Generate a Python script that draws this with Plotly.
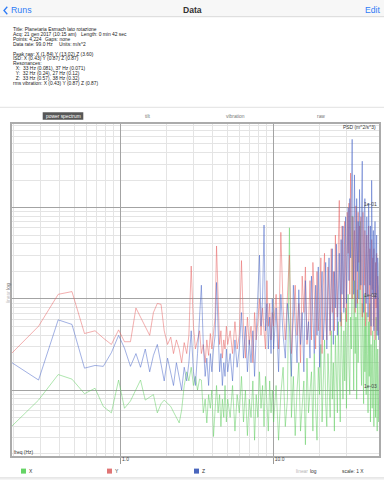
import math
import plotly.graph_objects as go

# ---------------- data (PSD, log10 of m^2/s^3) ----------------
freq_hz = [
    0.19, 0.29, 0.39, 0.48, 0.58, 0.68, 0.77, 0.87, 0.97, 1.06,
    1.16, 1.26, 1.35, 1.45, 1.55, 1.64, 1.74, 1.84, 1.93, 2.03,
    2.13, 2.22, 2.32, 2.42, 2.51, 2.61, 2.71, 2.80, 2.90, 3.00,
    3.09, 3.19, 3.29, 3.38, 3.48, 3.58, 3.67, 3.77, 3.87, 3.96,
    4.06, 4.16, 4.25, 4.35, 4.45, 4.54, 4.64, 4.74, 4.83, 4.93,
    5.03,
    5.22, 5.41, 5.61, 5.80, 5.99, 6.19, 6.38, 6.57, 6.77, 6.96,
    7.15, 7.35, 7.54, 7.73, 7.93, 8.12, 8.31, 8.51, 8.70, 8.89,
    9.09, 9.28, 9.47, 9.67, 9.86,
    10.05, 10.44, 10.83, 11.21, 11.60, 11.99, 12.38, 12.76, 13.15, 13.54,
    13.92, 14.31, 14.70, 15.08, 15.47, 15.86, 16.24, 16.63, 17.02, 17.40,
    17.79, 18.18, 18.56, 18.95, 19.34, 19.72, 20.11, 20.50, 20.88, 21.27,
    21.66, 22.04, 22.43, 22.82, 23.20, 23.59, 23.98, 24.36, 24.75, 25.14,
    25.52, 25.91, 26.30, 26.68, 27.07, 27.46, 27.84, 28.23, 28.62, 29.00,
    29.39, 29.78, 30.16, 30.55, 30.94, 31.32, 31.71, 32.10, 32.48, 32.87,
    33.26, 33.64, 34.03, 34.42, 34.80, 35.19, 35.58, 35.96, 36.35, 36.74,
    37.13, 37.51, 37.90, 38.28, 38.67, 39.06, 39.45, 39.83, 40.22, 40.61,
    40.99, 41.38, 41.77, 42.15, 42.54, 42.93, 43.31, 43.70, 44.09, 44.47,
    44.86, 45.25, 45.63, 46.02, 46.41, 46.79, 47.18, 47.57, 47.95, 48.34,
    48.73, 49.11, 49.50,
]

psd_x_exp = [
    -3.41, -3.11, -2.83, -2.88, -3.04, -2.98, -3.18, -3.25, -2.89, -3.20,
    -3.12, -3.00, -2.89, -3.11, -3.08, -3.05, -3.25, -3.15, -3.11, -3.15,
    -3.18, -3.24, -3.30, -3.36, -3.22, -2.95, -2.80, -2.90, -2.75, -2.95,
    -2.85, -3.00, -2.88, -2.89, -3.25, -3.10, -3.36, -3.05, -3.20, -3.00,
    -3.51, -3.15, -2.95, -3.25, -3.05, -3.40, -3.10, -3.30, -2.95, -3.35,
    -3.10,
    -3.30, -2.95, -3.45, -3.05, -3.25, -2.85, -3.35, -3.00, -3.50, -3.10,
    -3.30, -2.90, -3.55, -3.05, -3.30, -2.80, -3.20, -2.95, -3.40, -2.85,
    -3.15, -3.45, -2.90, -3.25, -3.00,
    -3.35, -2.95, -3.55, -3.05, -2.75, -3.40, -3.10, -1.22, -3.30, -2.85,
    -3.50, -3.00, -2.70, -3.45, -3.15, -2.90, -3.60, -2.65, -3.25, -3.05,
    -2.80, -3.45, -2.60, -3.20, -3.55, -2.75, -3.05, -2.50, -3.35, -2.90,
    -2.45, -3.15, -3.40, -2.60, -2.95, -3.30, -2.35, -3.10, -2.70, -3.45,
    -2.40, -2.95, -3.25, -2.25, -2.80, -3.35, -2.15, -2.70, -3.10, -2.35,
    -2.90, -2.10, -3.20, -2.50, -1.95, -2.75, -3.05, -2.20, -2.55, -1.09,
    -2.45, -3.00, -1.80, -2.60, -2.20, -3.10, -1.90, -2.70, -2.35, -1.75,
    -1.15, -2.65, -2.95, -2.05, -2.40, -3.15, -1.95, -2.80, -2.30, -3.05,
    -2.15, -2.60, -3.25, -2.25, -2.85, -2.05, -3.35, -2.50, -2.75, -3.20,
    -2.35, -2.90, -3.40, -2.45, -2.70, -3.30, -2.20, -3.00, -3.45, -2.55,
    -2.85, -3.35, -2.70,
]

psd_y_exp = [
    -2.61, -2.30, -1.95, -1.92, -2.38, -2.35, -2.43, -2.50, -2.34, -2.47,
    -2.47, -2.10, -2.20, -2.31, -2.40, -2.15, -2.05, -2.06, -2.35, -2.50,
    -2.42, -2.60, -2.45, -2.55, -2.70, -2.48, -2.60, -2.40, -1.64, -2.30,
    -2.55, -2.45, -2.35, -2.60, -2.50, -2.70, -2.45, -2.62, -2.38, -2.55,
    -2.40, -2.20, -1.42, -2.10, -2.50, -2.35, -2.65, -2.45, -2.55, -2.30,
    -2.50,
    -2.35, -2.60, -2.25, -2.55, -2.40, -1.58, -2.30, -2.65, -2.20, -2.50,
    -2.30, -2.70, -2.15, -2.45, -2.25, -2.00, -2.40, -2.10, -2.35, -2.55,
    -1.80, -2.30, -2.05, -2.45, -2.15,
    -2.30, -1.95, -2.55, -1.27, -2.10, -2.45, -1.90, -1.52, -2.60, -2.20,
    -1.85, -2.40, -2.05, -2.70, -1.75, -2.15, -1.65, -2.50, -2.30, -1.80,
    -2.45, -1.60, -1.95, -2.55, -1.70, -2.35, -2.10, -1.55, -2.60, -1.85,
    -1.50, -2.25, -2.45, -1.65, -1.95, -2.40, -1.45, -2.15, -1.70, -2.35,
    -1.30, -1.90, -2.20, -1.40, -0.92, -1.75, -2.30, -1.20, -1.60, -2.10,
    -1.15, -1.70, -2.25, -1.05, -1.50, -0.95, -1.95, -0.62, -1.35, -2.00,
    -1.10, -1.80, -1.25, -2.15, -0.98, -1.45, -2.05, -1.05, -1.60, -1.20,
    -1.90, -1.10, -1.50, -2.20, -1.05, -1.35, -1.85, -1.25, -2.30, -1.55,
    -1.30, -1.95, -1.60, -1.20, -2.25, -1.45, -1.75, -2.40, -1.35, -1.90,
    -1.55, -2.30, -1.45, -1.85, -2.45, -1.60, -2.10, -1.50, -2.35, -1.75,
    -1.95, -2.40, -1.85,
]

psd_z_exp = [
    -2.69, -2.89, -2.23, -2.28, -2.76, -2.73, -2.74, -2.59, -2.40, -2.54,
    -2.74, -2.60, -2.75, -2.55, -2.80, -2.62, -2.50, -2.70, -2.90, -2.65,
    -2.80, -2.95, -2.70, -2.85, -3.00, -2.75, -2.90, -2.70, -2.35, -2.80,
    -2.95, -2.60, -2.20, -1.85, -2.50, -2.85, -2.65, -2.95, -2.60, -2.80,
    -2.55, -2.40, -1.82, -2.45, -2.80, -2.60, -2.95, -2.70, -2.85, -2.55,
    -2.80,
    -2.60, -2.90, -2.45, -2.75, -2.55, -2.15, -2.65, -2.30, -2.80, -2.45,
    -2.70, -2.35, -2.85, -2.40, -2.10, -1.52, -2.30, -2.00, -1.19, -2.35,
    -2.05, -2.55, -2.20, -2.60, -2.00,
    -2.55, -2.10, -2.80, -1.95, -2.40, -2.65, -2.05, -2.30, -2.85, -1.85,
    -2.35, -2.70, -1.90, -2.50, -2.15, -2.80, -1.80, -2.45, -2.25, -2.65,
    -1.75, -2.30, -2.60, -1.85, -2.40, -1.65, -2.75, -2.05, -1.70, -2.45,
    -2.20, -1.60, -2.55, -1.90, -1.55, -2.35, -2.00, -1.45, -2.50, -1.70,
    -2.10, -1.40, -2.40, -1.80, -1.50, -2.25, -1.35, -1.95, -1.20, -2.15,
    -1.65, -1.10, -2.05, -1.40, -1.00, -1.80, -0.90, -1.55, -0.62, -0.25,
    -1.30, -1.95, -0.64, -1.50, -2.10, -0.90, -1.70, -1.15, -2.00, -0.80,
    -1.45, -1.85, -0.95, -0.49, -1.60, -2.15, -1.05, -0.90, -1.75, -2.05,
    -1.10, -1.55, -2.20, -0.95, -1.40, -1.85, -1.20, -2.30, -0.70, -1.60,
    -1.95, -1.25, -2.35, -1.50, -1.15, -2.00, -1.70, -1.30, -2.40, -1.55,
    -1.90, -2.45, -1.60,
]

assert len(freq_hz) == len(psd_x_exp) == len(psd_y_exp) == len(psd_z_exp), (
    len(freq_hz), len(psd_x_exp), len(psd_y_exp), len(psd_z_exp))

series_names = ["X", "Y", "Z"]
series_exp = [psd_x_exp, psd_y_exp, psd_z_exp]
line_colors = ["rgba(95,205,95,0.5)", "rgba(232,95,95,0.5)", "rgba(70,100,200,0.5)"]
legend_colors = ["#66d466", "#e07575", "#4a66bd"]

x_major = [1, 10]
x_major_text = ["1.0", "10.0"]
y_major = [0.1, 0.01, 0.001]
y_major_text = ["1e-01", "1e-02", "1e-03"]
x_minor = [m * 10 ** e for e in (-1, 0, 1) for m in range(2, 10)]
y_minor = [m * 10 ** e for e in (-4, -3, -2, -1) for m in range(2, 10)]

info_lines = [
    "Title: Planetaria Esmach lato rotazione",
    "Acq: 21 gen 2017 (10:15 am)",
    "Points: 4,224",
    "Data rate: 99.0 Hz",
    "",
    "Peak raw: X (1.84) Y (13.02) Z (3.60)",
    "ISD: X (0.43) Y (0.87) Z (0.87)",
    "Resonances:",
    "\u00a0\u00a0X:\u00a0\u00a033 Hz (0.081), 37 Hz (0.071)",
    "\u00a0\u00a0Y:\u00a0\u00a032 Hz (0.24), 27 Hz (0.12)",
    "\u00a0\u00a0Z:\u00a0\u00a033 Hz (0.57), 38 Hz (0.32)",
    "rms vibration: X (0.43) Y (0.87) Z (0.87)",
]
info_col2 = {1: ("Length: 0 min 42 sec", 80), 2: ("Gaps: none", 44), 3: ("Units: m/s^2", 58.3)}
tabs = ["power spectrum", "tilt", "vibration", "raw"]
tab_centers = [63, 148.3, 235.5, 320.7]

W, H = 384, 480
FONT = "Liberation Sans, Arial, Helvetica, sans-serif"


def px(x):
    return x / W


def py(y):
    return 1 - y / H


fig = go.Figure()
for name, exps, col in zip(series_names, series_exp, line_colors):
    fig.add_trace(go.Scatter(
        x=freq_hz, y=[10 ** v for v in exps], mode="lines", name=name,
        line=dict(color=col, width=1), hoverinfo="skip", showlegend=False))

f_lo, f_hi = 0.1934, 49.5
fig.update_layout(
    width=W, height=H, margin=dict(l=0, r=0, t=0, b=0),
    paper_bgcolor="white", plot_bgcolor="white", showlegend=False,
    font=dict(family=FONT, size=5, color="#333"),
    xaxis=dict(
        type="log", range=[math.log10(f_lo), math.log10(f_hi)],
        domain=[px(11.7), px(379.3)], anchor="y",
        tickmode="array", tickvals=x_major, ticktext=x_major_text,
        ticks="outside", ticklen=6, tickwidth=1.3, tickcolor="#9a9a9a",
        ticklabelposition="outside right", ticklabelstandoff=-3,
        tickfont=dict(size=5, color="#444", family=FONT),
        showgrid=True, gridcolor="#a3a3a3", gridwidth=1.3,
        showline=True, linecolor="#ababab", linewidth=1.6, mirror=True,
        zeroline=False,
        minor=dict(tickmode="array", tickvals=x_minor, showgrid=True,
                   gridcolor="#e4e4e4", gridwidth=1, ticks=""),
    ),
    yaxis=dict(
        type="log", range=[-3.72, -0.082],
        domain=[py(455.7), py(124)], anchor="x", side="right",
        tickmode="array", tickvals=y_major, ticktext=y_major_text,
        ticks="", ticklabelposition="inside top",
        tickfont=dict(size=5, color="#444", family=FONT),
        showgrid=True, gridcolor="#a3a3a3", gridwidth=1.3,
        showline=True, linecolor="#ababab", linewidth=1.6, mirror=True,
        zeroline=False,
        minor=dict(tickmode="array", tickvals=y_minor, showgrid=True,
                   gridcolor="#e4e4e4", gridwidth=1, ticks=""),
    ),
)

shapes = []
ann = []

# nav bar
shapes.append(dict(type="rect", xref="paper", yref="paper", x0=0, x1=1, y0=py(16.7), y1=1,
                   fillcolor="#f7f7f7", line=dict(width=0), layer="below"))
shapes.append(dict(type="line", xref="paper", yref="paper", x0=0, x1=1, y0=py(16.7), y1=py(16.7),
                   line=dict(color="#cfcfcf", width=0.8)))
shapes.append(dict(type="path", xref="paper", yref="paper",
                   path=f"M {px(7.3)} {py(6.8)} L {px(4.0)} {py(10.5)} L {px(7.3)} {py(14.2)}",
                   line=dict(color="#2f7cf6", width=1.3)))
ann.append(dict(text="Runs", x=px(9.5), y=py(10.5), xanchor="left",
                font=dict(size=8.8, color="#2f7cf6")))
ann.append(dict(text="<b>Data</b>", x=0.5, y=py(10.5), xanchor="center",
                font=dict(size=8.6, color="#333")))
ann.append(dict(text="Edit", x=px(380.5), y=py(10.5), xanchor="right",
                font=dict(size=8.6, color="#2f7cf6")))

# info text
for i, line in enumerate(info_lines):
    yy = 29.5 + 4.9 * i
    if line:
        ann.append(dict(text=line, x=px(11.5), y=py(yy), xanchor="left",
                        font=dict(size=4.9, color="#222")))
    if i in info_col2:
        t, xx = info_col2[i]
        ann.append(dict(text=t, x=px(xx), y=py(yy), xanchor="left",
                        font=dict(size=4.9, color="#222")))

# tab bar
shapes.append(dict(type="line", xref="paper", yref="paper", x0=0, x1=1, y0=py(107.3), y1=py(107.3),
                   line=dict(color="#e2e2e2", width=1)))
shapes.append(dict(type="rect", xref="paper", yref="paper", x0=px(42.7), x1=px(83.3),
                   y0=py(119.8), y1=py(112.3), fillcolor="#575757", line=dict(width=0)))
for i, (t, cx) in enumerate(zip(tabs, tab_centers)):
    ann.append(dict(text=t, x=px(cx), y=py(116), xanchor="center",
                    font=dict(size=4.9, color="white" if i == 0 else "#777")))

# axis captions
ann.append(dict(text="PSD (m^2/s^3)", x=px(377), y=py(127.8), xanchor="right",
                font=dict(size=4.9, color="#333")))
ann.append(dict(text="freq (Hz)", x=px(12.5), y=py(452.6), xanchor="left",
                font=dict(size=4.9, color="#333")))
ann.append(dict(text="<span style='color:#c2c2c2'>linear</span> <span style='color:#666'>log</span>",
                x=px(5.2), y=py(293.5), textangle=-90, font=dict(size=4.9)))

# bottom legend
leg_x = [21, 107, 194]
for name, col, lx in zip(series_names, legend_colors, leg_x):
    shapes.append(dict(type="rect", xref="paper", yref="paper", x0=px(lx), x1=px(lx + 5),
                       y0=py(473.6), y1=py(468.6), fillcolor=col, line=dict(width=0)))
    ann.append(dict(text=name, x=px(lx + 7.3), y=py(471.2), xanchor="left",
                    font=dict(size=5, color="#333")))
ann.append(dict(text="linear", x=px(295), y=py(471.2), xanchor="left",
                font=dict(size=4.9, color="#b5b5b5")))
ann.append(dict(text="log", x=px(309), y=py(471.2), xanchor="left",
                font=dict(size=4.9, color="#333")))
ann.append(dict(text="scale: 1 X", x=px(340.5), y=py(471.2), xanchor="left",
                font=dict(size=4.9, color="#333")))
shapes.append(dict(type="rect", xref="paper", yref="paper", x0=0, x1=1, y0=0, y1=py(477.8),
                   fillcolor="#f4f4f4", line=dict(width=0), layer="below"))
shapes.append(dict(type="line", xref="paper", yref="paper", x0=0, x1=1, y0=py(477.8), y1=py(477.8),
                   line=dict(color="#d6d6d6", width=0.8)))

for a in ann:
    a.setdefault("xref", "paper")
    a.setdefault("yref", "paper")
    a.setdefault("yanchor", "middle")
    a.setdefault("showarrow", False)
    a.setdefault("borderpad", 0)

fig.update_layout(shapes=shapes, annotations=ann)
fig.write_html("out.html", config={"displayModeBar": False},
               post_script="document.body.style.margin='0';document.body.style.overflow='hidden';")
